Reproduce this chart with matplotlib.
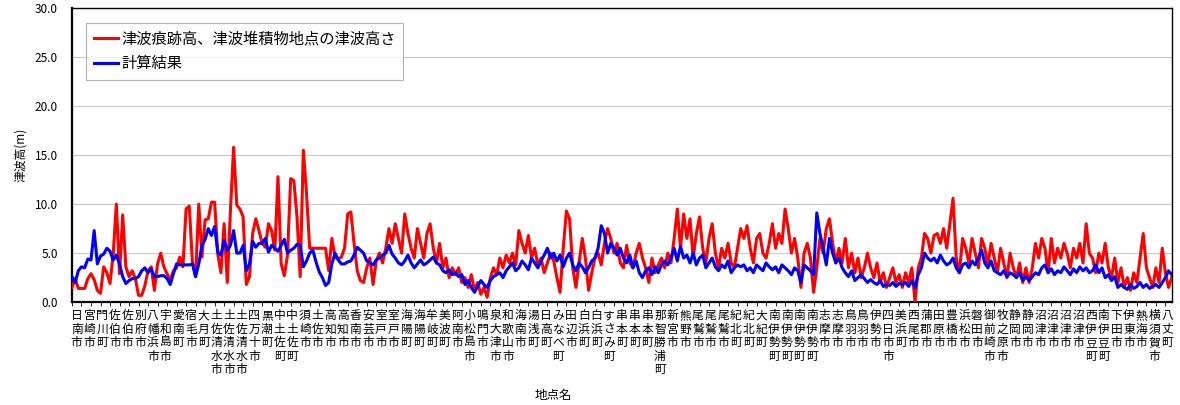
import matplotlib
matplotlib.use("Agg")
import matplotlib.pyplot as plt
import numpy as np

plt.rcParams['font.family'] = ['Noto Sans CJK JP', 'DejaVu Sans']

# place names shown along the x axis (one every 4 points)
places = [
    "日南市", "宮崎市", "門川町", "佐伯市", "佐伯市", "別府市", "八幡浜市", "宇和島市",
    "愛南町", "宿毛市", "大月町", "土佐清水市", "土佐清水市", "土佐清水市", "四万十市",
    "黒潮町", "中土佐町", "中土佐町", "須崎市", "土佐市", "高知市", "高知市", "香南市",
    "安芸市", "室戸市", "室戸市", "海陽町", "海陽町", "牟岐町", "美波町", "阿南市",
    "小松島市", "鳴門市", "泉大津市", "和歌山市", "海南市", "湯浅町", "日高町", "みなべ町",
    "田辺市", "白浜町", "白浜町", "すさみ町", "串本町", "串本町", "串本町", "那智勝浦町",
    "新宮市", "熊野市", "尾鷲市", "尾鷲市", "尾鷲市", "紀北町", "紀北町", "大紀町",
    "南伊勢町", "南伊勢町", "南伊勢町", "南伊勢町", "志摩市", "志摩市", "鳥羽市", "鳥羽市",
    "伊勢市", "四日市市", "美浜町", "西尾市", "蒲郡市", "田原市", "豊橋市", "浜松市",
    "磐田市", "御前崎市", "牧之原市", "静岡市", "静岡市", "沼津市", "沼津市", "沼津市",
    "沼津市", "西伊豆町", "南伊豆町", "下田市", "伊東市", "熱海市", "横須賀市", "八丈町",
]

# tsunami trace heights (m)
observed = [
    1.5, 2.4, 1.4, 1.4, 1.4, 2.4, 2.9, 2.3, 1.2, 0.9,
    3.6, 3.0, 1.9, 4.9, 10.0, 2.9, 8.9, 3.6, 2.6, 3.2,
    2.4, 0.7, 0.7, 1.7, 3.2, 3.6, 1.2, 3.9, 5.0, 3.6,
    2.9, 2.2, 3.2, 3.5, 4.6, 3.6, 9.5, 9.8, 4.1, 2.6,
    10.0, 4.6, 8.4, 8.5, 10.2, 10.2, 4.9, 3.0, 8.0, 2.0,
    9.4, 15.8, 9.9, 9.5, 8.7, 1.8, 2.6, 7.0, 8.5, 7.3,
    6.0, 5.6, 8.0, 7.3, 5.3, 12.8, 3.9, 2.7, 4.8, 12.6,
    12.4, 8.7, 2.6, 15.5, 11.1, 5.5, 5.5, 5.5, 5.5, 5.5,
    5.5, 3.2, 6.5, 4.6, 4.4, 4.6, 5.5, 9.0, 9.2, 6.0,
    3.2, 2.2,
    2.0, 3.5, 4.5, 1.8, 4.2, 5.0, 4.0, 5.5, 7.5, 6.0,
    8.0, 6.5, 5.0, 9.0, 7.0, 5.5, 4.5, 7.5, 6.0, 4.5,
    7.0, 8.0, 5.5, 4.0, 6.0, 3.5, 4.5, 2.5, 3.5, 2.8,
    3.5, 2.0, 2.5, 1.5, 2.8, 1.2, 2.0, 0.8, 1.5, 0.5,
    2.5, 3.5, 2.8, 4.5, 3.5, 4.8, 4.0, 5.0, 3.8, 7.3,
    6.0, 5.0, 6.8, 4.5, 5.5, 3.8, 4.5, 3.0, 4.0, 5.0,
    4.2, 2.5, 1.0, 5.5, 9.3, 8.5, 3.5, 1.5, 4.0, 6.5,
    4.5, 1.2, 3.0, 4.5, 5.0, 3.8, 6.0, 7.5, 6.5, 5.0,
    6.0, 4.0, 3.5, 5.8, 4.0, 3.5, 5.0, 6.0, 4.5, 3.5,
    2.0, 4.5, 3.0, 3.8, 4.5, 3.5, 5.0, 4.0, 6.5, 9.5,
    5.5, 9.0, 6.5, 8.5, 4.5, 7.0, 8.7, 5.5, 4.0, 6.5,
    8.0, 5.0, 3.5, 5.5, 4.5, 6.0, 4.0, 3.5, 5.5, 7.5,
    6.5, 7.8, 5.5, 4.0, 6.5, 7.0, 5.0, 4.5, 6.0, 8.0,
    5.5, 7.0, 6.0, 9.5, 7.5, 5.0, 6.5, 4.5, 1.5, 5.0,
    6.0, 4.5, 1.0, 3.5, 6.5, 5.0, 7.5, 8.5, 6.0, 4.0,
    5.5, 4.0, 6.5, 3.5, 5.0, 3.0, 4.5, 2.5, 3.5, 5.0,
    3.5, 2.5, 4.0, 2.0, 3.0, 1.5, 2.5, 3.5, 2.0, 2.8,
    1.5, 3.0, 2.0, 3.5, 0.0, 3.5, 4.5, 7.0, 6.5, 5.0,
    6.8, 7.0, 6.0, 7.5, 5.5, 8.0, 10.6, 4.5, 3.0, 6.5,
    5.5, 4.0, 6.5, 5.0, 3.5, 6.5, 5.5, 3.8, 6.0, 4.5,
    3.0, 5.5, 4.0, 2.5, 5.0, 3.5, 2.5, 4.0, 2.0, 3.5,
    2.0, 3.5, 6.0, 4.5, 6.5, 5.5, 3.0, 6.5, 4.0, 5.5,
    4.5, 6.0, 5.0, 3.5, 5.5, 4.5, 6.0, 4.0, 8.0, 5.0,
    4.5, 3.0, 5.0, 4.0, 6.0, 3.5, 2.5, 4.5, 2.0, 3.5,
    1.5, 2.5, 1.2, 3.0, 2.0, 4.5, 7.0, 3.5, 2.5, 1.5,
    3.5, 2.0, 5.5, 3.0, 1.5, 2.5,
]

# computed heights (m)
computed = [
    2.6, 2.0, 3.2, 3.6, 3.5, 4.4, 4.3, 7.3, 3.9, 4.7,
    4.9, 5.5, 5.2, 4.3, 4.8, 3.9, 2.6, 1.9, 2.2, 2.4,
    2.4, 2.6, 3.2, 3.5, 3.0, 3.4, 2.6, 2.6, 2.7, 2.7,
    2.4, 1.8, 2.9, 3.9, 3.8, 3.8, 3.8, 3.8, 3.9, 2.6,
    3.9, 5.8, 6.4, 7.5, 6.8, 7.7, 5.1, 4.8, 6.3, 5.3,
    5.8, 7.3, 5.0, 5.0, 5.8, 3.2, 3.9, 6.2, 5.6, 6.0,
    6.0, 6.5, 5.1, 5.8, 5.5, 5.2, 5.8, 6.4, 5.0, 5.3,
    5.5, 5.9, 5.8, 3.6, 4.2, 5.0, 5.3, 4.1, 3.1, 2.5,
    1.7, 2.0, 3.9, 5.0, 4.3, 3.9, 3.9, 4.1, 4.2, 4.8,
    5.6, 5.3,
    5.0, 4.2, 4.0, 3.8, 4.3, 4.5, 4.8, 5.0, 5.8, 4.9,
    4.5, 4.0, 3.8, 4.2, 4.8, 4.0, 3.5, 3.9, 4.3, 3.8,
    4.0, 4.3, 4.6, 4.0, 3.8, 3.2, 3.0, 3.3, 2.8, 3.0,
    2.6, 2.8, 1.8, 2.2, 1.5, 1.0, 1.6, 2.2, 1.8, 1.5,
    2.2, 2.6, 2.8, 3.0, 2.5, 3.2, 3.6, 4.0, 3.2, 3.5,
    4.2, 3.8, 3.3, 4.5, 4.0, 3.5, 4.2, 4.8, 5.5, 4.5,
    5.0, 4.2, 4.8, 3.6, 4.5, 5.0, 3.8, 3.2, 4.0, 3.6,
    3.0, 3.5, 4.2, 4.5, 5.5, 7.8, 7.0, 5.0, 6.0, 5.5,
    4.8, 5.5, 4.5, 4.0, 4.8, 3.5, 4.2, 3.0, 2.5, 3.2,
    3.5, 2.8, 3.6, 3.0, 3.8, 4.2, 3.8, 4.5, 5.5, 4.2,
    5.7, 4.5, 4.8, 4.0, 5.0, 3.8, 4.5, 4.8, 3.5, 4.0,
    4.5, 3.6, 3.2, 3.8, 3.5, 4.2, 3.0, 3.5, 3.8, 3.6,
    3.8, 3.2, 3.5, 3.0, 3.8, 3.5, 3.2, 4.0, 3.6, 3.3,
    3.6, 3.0, 3.8, 3.5, 3.2, 2.8, 3.5, 3.2, 2.0, 3.8,
    3.5, 3.2, 2.8, 9.1, 7.0, 5.5, 3.8, 6.5, 5.0, 4.0,
    4.5, 3.5, 3.0, 2.6, 3.2, 2.2, 2.5, 2.8, 2.4, 2.0,
    2.3, 2.0, 1.8, 2.2, 1.6, 1.8, 1.7, 2.0, 1.6, 1.9,
    1.8, 2.0, 1.6, 2.2, 1.5, 2.8, 3.5, 5.0, 4.5, 4.2,
    4.5, 4.0, 4.8, 4.2, 3.8, 4.0, 4.5, 3.5, 3.0, 3.8,
    4.0, 3.5, 4.2, 3.8, 4.5, 5.3, 4.0, 3.5, 4.2, 3.2,
    3.0, 2.8, 3.2, 2.6, 3.0, 2.8, 2.5, 3.0, 2.2, 2.6,
    2.2, 2.6, 3.0, 2.8, 3.5, 3.8, 3.0, 3.4, 2.8, 3.2,
    3.0, 3.6, 3.2, 2.8, 3.4, 3.0, 3.6, 3.2, 3.5, 3.0,
    3.2, 3.8, 3.0, 3.5, 2.5, 2.8, 2.2, 2.6, 1.5, 1.8,
    1.5, 1.3, 1.8, 1.4, 1.6, 2.0, 1.5, 1.8, 1.4, 1.6,
    1.8, 1.5, 2.0, 2.5, 3.2, 2.8,
]

n = len(observed)
x = np.arange(n)

fig = plt.figure(figsize=(11.8, 4.05), dpi=100)
ax = fig.add_axes([0.061, 0.254, 0.932, 0.726])

ax.plot(x, observed, color="#ff0000", lw=2.2, label="津波痕跡高、津波堆積物地点の津波高さ", zorder=3)
ax.plot(x, computed, color="#0000ff", lw=2.2, label="計算結果", zorder=4)

ax.set_xlim(0, n - 1)
ax.set_ylim(0, 30)
ax.set_yticks(np.arange(0, 31, 5))
ax.set_yticklabels([f"{v:.1f}" for v in np.arange(0, 31, 5)], fontsize=8.5)
ax.yaxis.grid(True, color="#c8c8c8", lw=0.8)
ax.set_axisbelow(True)
ax.tick_params(axis="y", length=0, pad=10)

# labels every 4 points, small tick marks every 3 points
label_pos = [4 * i + 1.5 for i in range(len(places))]
ax.set_xticks(label_pos)
ax.set_xticklabels(["\n".join(p) for p in places], fontsize=8.5, linespacing=1.05, va="top")
ax.tick_params(axis="x", which="major", length=0, pad=5)
ax.set_xticks(np.arange(0, n, 3), minor=True)
ax.tick_params(axis="x", which="minor", length=3, direction="out", color="black")

for s in ax.spines.values():
    s.set_color("black")
    s.set_linewidth(1.0)
ax.spines["left"].set_linewidth(1.6)
ax.spines["bottom"].set_linewidth(1.6)

ax.set_ylabel("津波高(m)", fontsize=8.5, labelpad=6)
fig.text(0.469, 0.008, "地点名", ha="center", va="bottom", fontsize=9)

leg = ax.legend(loc="upper left", bbox_to_anchor=(0.0127, 0.95), borderaxespad=0,
                fontsize=11, frameon=True, fancybox=False, edgecolor="#a0a0a0",
                handlelength=1.6, handletextpad=0.2, borderpad=0.5, labelspacing=0.5)
leg.get_frame().set_linewidth(0.8)

fig.savefig("out.png", dpi=100)
